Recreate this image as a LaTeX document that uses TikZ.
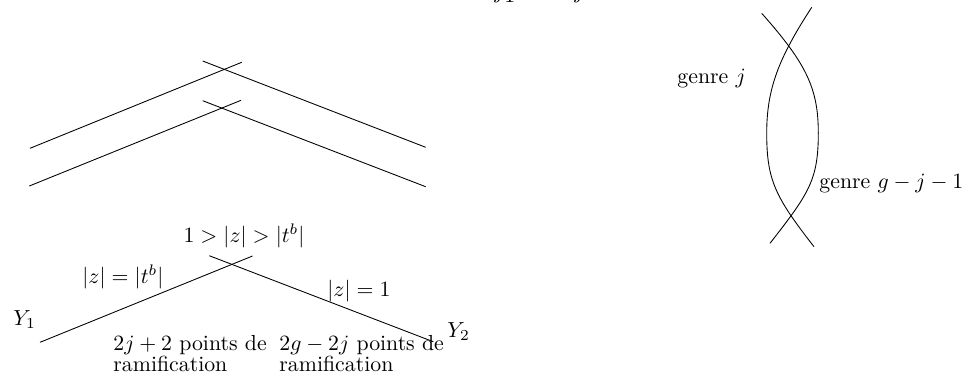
\documentclass[tikz,border=0pt]{standalone}
\begin{document}
\begin{tikzpicture}[x=0.4587pt,y=-0.4587pt,
  lbl/.style={inner sep=0pt,anchor=base west},
  seg/.style={line width=0.4pt}]
\useasboundingbox (0,0) rectangle (976,382);
\clip (0,0) rectangle (976,382);
% clipped fragments at the top edge
\node[lbl] (fa) at (494,-2) {$j$};
\node[lbl] (fb) at (504,2.5) {$1$};
\node[lbl] (fc) at (574,-2) {$j$};
% top pairs
\coordinate (a1) at (30,148.3);  \coordinate (a2) at (241.7,62.3);
\coordinate (b1) at (202.7,61);  \coordinate (b2) at (425.7,147.3);
\coordinate (c1) at (29.3,186);  \coordinate (c2) at (241,100.3);
\coordinate (d1) at (202.7,100.7); \coordinate (d2) at (425.7,186.7);
\draw[seg] (a1) -- (a2);
\draw[seg] (b1) -- (b2);
\draw[seg] (c1) -- (c2);
\draw[seg] (d1) -- (d2);
% lower pair
\coordinate (e1) at (40,342.3);  \coordinate (e2) at (252.5,256);
\coordinate (f1) at (209.3,255.7); \coordinate (f2) at (433.3,341.7);
\draw[seg] (e1) -- (e2);
\draw[seg] (f1) -- (f2);
\node[inner sep=0pt,anchor=base] (l1) at (244,242.7) {$1>|z|>|t^b|$};
\node[lbl] (l2) at (82,283) {$|z|=|t^b|$};
\node[lbl] (l3) at (327,296) {$|z|=1$};
\node[lbl] (y1) at (13,325) {$Y_1$};
\node[lbl] (y2) at (447,337) {$Y_2$};
\node[lbl,align=left] (p1) at (113,371.5) {$2j+2$ points de\\[-2.5pt]ramification};
\node[lbl,align=left] (p2) at (279,371.5) {$2g-2j$ points de\\[-2.5pt]ramification};
% right figure
\coordinate (t1) at (811.7,7.3);  \coordinate (m1) at (766.7,133); \coordinate (u1) at (814,246.7);
\coordinate (t2) at (761.7,13.3); \coordinate (m2) at (818.3,133); \coordinate (u2) at (770,243.3);
\draw[seg] (t1) .. controls (779.2,57.3) and (766.7,88) .. (m1)
               .. controls (766.7,180) and (775,196.7) .. (u1);
\draw[seg] (t2) .. controls (806,63.3) and (818.3,88) .. (m2)
               .. controls (818.3,180) and (809,193.3) .. (u2);
\node[lbl] (g1) at (677,83.3) {genre $j$};
\node[lbl] (g2) at (819,188.3) {genre $g-j-1$};
\end{tikzpicture}
\end{document}
